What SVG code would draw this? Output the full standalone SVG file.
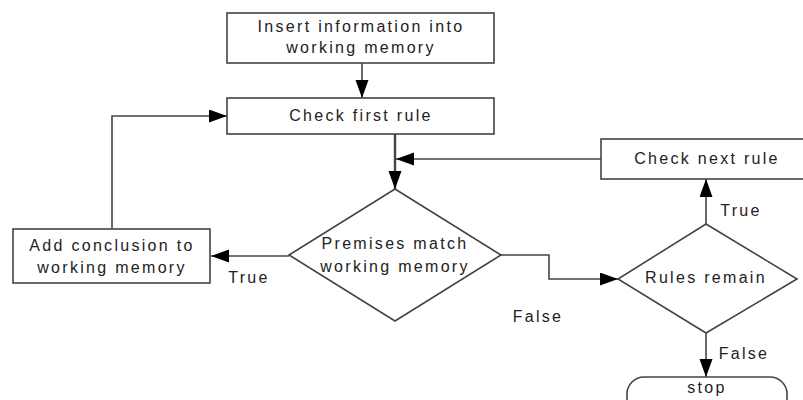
<svg xmlns="http://www.w3.org/2000/svg" width="803" height="400" viewBox="0 0 803 400">
  <style>
    .box { fill: #fff; stroke: #444; stroke-width: 1.6; }
    .lbl { font-family: "Liberation Sans", Arial, sans-serif; font-size: 16px; letter-spacing: 2.3px; fill: #222; text-anchor: middle; }
    .edge { fill: none; stroke: #444; stroke-width: 1.6; }
    .main { stroke-width: 2.4; }
  </style>
  <defs>
    <marker id="arrow" markerUnits="userSpaceOnUse" markerWidth="18" markerHeight="14" refX="18" refY="6.5" orient="auto">
      <path d="M0,0 L18,6.5 L0,13 z" fill="#000"/>
    </marker>
  </defs>
  <rect width="803" height="400" fill="#fff"/>

  <g id="connectors">
    <path class="edge" d="M362,63 V98" marker-end="url(#arrow)"/>
    <path class="edge main" d="M395,134 V189" marker-end="url(#arrow)"/>
    <path class="edge" d="M601,159 H396" marker-end="url(#arrow)"/>
    <path class="edge" d="M289,256 H211" marker-end="url(#arrow)"/>
    <path class="edge" d="M112,229 V116 H227" marker-end="url(#arrow)"/>
    <path class="edge" d="M501,255 H549 V279 H618" marker-end="url(#arrow)"/>
    <path class="edge" d="M706,224 V179" marker-end="url(#arrow)"/>
    <path class="edge" d="M706,333 V377" marker-end="url(#arrow)"/>
    <text class="lbl" x="249" y="283">True</text>
    <text class="lbl" x="538" y="322">False</text>
    <text class="lbl" x="741" y="216">True</text>
    <text class="lbl" x="744" y="359">False</text>
  </g>

  <g id="insert">
    <rect class="box" x="227" y="13" width="267" height="50"/>
    <text class="lbl" x="361" y="32">Insert information into</text>
    <text class="lbl" x="361" y="53">working memory</text>
  </g>

  <g id="check-first">
    <rect class="box" x="227" y="98" width="267" height="36"/>
    <text class="lbl" x="361" y="121">Check first rule</text>
  </g>

  <g id="premises">
    <polygon class="box" points="395,189 501,255 395,321 289,255"/>
    <text class="lbl" x="395" y="249">Premises match</text>
    <text class="lbl" x="395" y="272">working memory</text>
  </g>

  <g id="add-conclusion">
    <rect class="box" x="13" y="229" width="197" height="54"/>
    <text class="lbl" x="112" y="251">Add conclusion to</text>
    <text class="lbl" x="112" y="273">working memory</text>
  </g>

  <g id="check-next">
    <rect class="box" x="601" y="139" width="215" height="40"/>
    <text class="lbl" x="707" y="164">Check next rule</text>
  </g>

  <g id="rules-remain">
    <polygon class="box" points="706,224 797,279 706,333 618,279"/>
    <text class="lbl" x="706" y="283">Rules remain</text>
  </g>

  <g id="stop">
    <rect class="box" x="627" y="377" width="160" height="40" rx="17"/>
    <text class="lbl" x="707" y="393">stop</text>
  </g>
</svg>
